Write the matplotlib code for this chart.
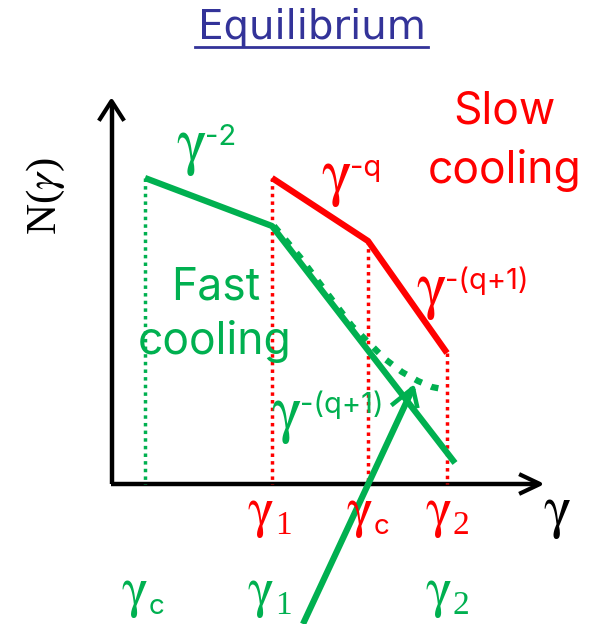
import numpy as np
import matplotlib.pyplot as plt

plt.rcParams['mathtext.fontset'] = 'stix'

GREEN = '#00b050'
RED = '#ff0000'
BLUE = '#333399'

# Schematic in pixel-like coordinates (x right, y down)
fast_x = [145, 272, 455]
fast_y = [178, 226, 463]
slow_x = [272, 368, 447]
slow_y = [178, 241, 353]
curve_x = [274, 300, 327, 352, 370, 385, 402, 418, 432, 447]
curve_y = [226, 257, 293, 326, 344, 359, 372, 381, 387, 390]
arrow_x = [303, 413]
arrow_y = [624, 388]

fig = plt.figure(figsize=(5.91, 6.24), dpi=100)
ax = fig.add_axes([0, 0, 1, 1])
ax.set_xlim(0, 591)
ax.set_ylim(624, 0)
ax.axis('off')

serif = 'Liberation Serif'
sans = 'Inter'
GAM = r'$\mathrm{\gamma}$'

#%% eixos
ax.plot([111.5, 111.5], [484, 103], color='k', lw=3.2, solid_capstyle='butt')
ax.plot([100, 111.5, 123], [119, 101, 119], color='k', lw=3)
ax.plot([111, 538], [484, 484], color='k', lw=3.2, solid_capstyle='butt')
ax.plot([521, 540, 521], [475, 484, 493], color='k', lw=3)

#%% verticais pontilhadas
ax.plot([fast_x[0], fast_x[0]], [fast_y[0], 484], color=GREEN, lw=2.5, ls=(0, (1, 1.2)))
for xv, yv in zip(slow_x, slow_y):
    ax.plot([xv, xv], [yv, 484], color=RED, lw=2.5, ls=(0, (1, 1.2)))

#%% espectros
ax.plot(fast_x, fast_y, color=GREEN, lw=4.5, solid_capstyle='butt')
ax.plot(slow_x, slow_y, color=RED, lw=4.5, solid_capstyle='butt')
ax.plot(curve_x, curve_y, color=GREEN, lw=4.5, ls=(0, (1.2, 1.6)))

#%% seta
ax.plot(arrow_x, arrow_y, color=GREEN, lw=4.5, solid_capstyle='butt')
ax.plot([393, 413, 417], [404, 388, 406], color=GREEN, lw=3.2)

#%% titulo
ax.text(311.5, 39, 'Equilibrium', color=BLUE, fontsize=29, family='DejaVu Sans',
        ha='center', va='baseline')
ax.plot([195, 428], [47, 47], color=BLUE, lw=2)

#%% rotulos
ax.text(46, 196, r'N($\gamma$)', rotation=90, fontsize=31, family=serif,
        ha='center', va='center', color='k')
ax.text(557, 526, GAM, fontsize=42, ha='center', va='baseline', color='k')


def power(xl, yb, sup, color):
    ax.text(xl, yb, GAM, fontsize=46, color=color, ha='left', va='baseline')
    ax.text(xl + 29, yb - 17, sup, fontsize=21, family=sans, color=color,
            ha='left', va='baseline')


power(176, 162, '-2', GREEN)
power(321, 193, '-q', RED)
power(416, 306, '-(q+1)', RED)
power(271, 430, '-(q+1)', GREEN)

ax.text(216, 300, 'Fast', color=GREEN, fontsize=32, family=sans, ha='center', va='baseline')
ax.text(215, 354, 'cooling', color=GREEN, fontsize=32, family=sans, ha='center', va='baseline')
ax.text(504, 123, 'Slow', color=RED, fontsize=32, family=sans, ha='center', va='baseline')
ax.text(505, 183, 'cooling', color=RED, fontsize=32, family=sans, ha='center', va='baseline')


def sub(x, y, s, color):
    ax.text(x, y, GAM, fontsize=40, color=color, ha='right', va='baseline')
    if s == 'c':
        ax.text(x + 1, y + 8, s, fontsize=20, family=sans, color=color,
                ha='left', va='baseline')
    else:
        ax.text(x + 1, y + 8, s, fontsize=24, family=serif, color=color,
                ha='left', va='baseline')


red_ticks = [(274, '1'), (373, 'c'), (452, '2')]
green_ticks = [(148, 'c'), (274, '1'), (452, '2')]
for xv, s in red_ticks:
    sub(xv, 526, s, RED)
for xv, s in green_ticks:
    sub(xv, 606, s, GREEN)

fig.savefig('out.png', dpi=100)
